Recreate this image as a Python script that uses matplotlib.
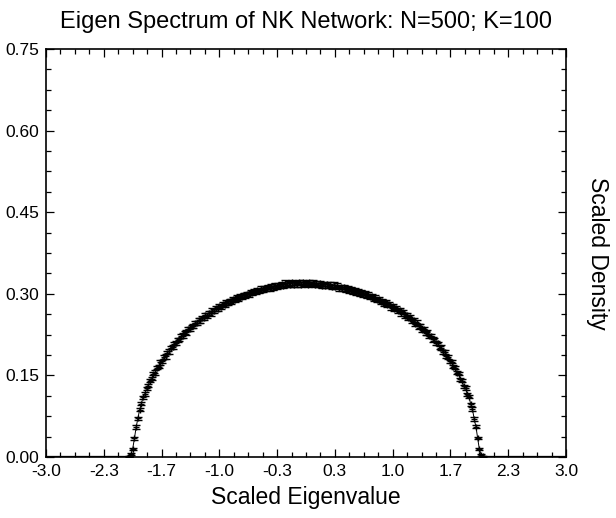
import numpy as np
import matplotlib
matplotlib.use("Agg")
import matplotlib.pyplot as plt
from matplotlib.ticker import MultipleLocator, FixedLocator

plt.rcParams['font.family'] = ['Liberation Sans', 'DejaVu Sans']

# ---- data -------------------------------------------------------------
# bin centres of the scaled eigenvalue histogram
eig_bins = np.round(np.linspace(-3.0, 3.0, 301), 2)

# density outside the support (x < -2.04 and x > 2.04)
left_tail = [0.0] * 48
right_tail = [0.0] * 48

# density for x = -2.04 ... 2.04 (step 0.02)
core_density = [
    0.001, 0.005, 0.015, 0.034, 0.055, 0.071, 0.087, 0.098, 0.110, 0.116,
    0.126, 0.131, 0.140, 0.144, 0.153, 0.155, 0.164, 0.166, 0.174, 0.176,
    0.184, 0.185, 0.192, 0.194, 0.201, 0.202, 0.208, 0.209, 0.215, 0.216,
    0.222, 0.223, 0.229, 0.229, 0.235, 0.235, 0.240, 0.241, 0.246, 0.246,
    0.251, 0.251, 0.256, 0.255, 0.261, 0.260, 0.265, 0.264, 0.269, 0.268,
    0.273, 0.272, 0.277, 0.276, 0.281, 0.279, 0.284, 0.283, 0.287, 0.286,
    0.290, 0.289, 0.293, 0.291, 0.296, 0.294, 0.298, 0.297, 0.300, 0.299,
    0.303, 0.301, 0.305, 0.303, 0.307, 0.305, 0.309, 0.307, 0.311, 0.309,
    0.313, 0.310, 0.314, 0.311, 0.315, 0.313, 0.316, 0.314, 0.318, 0.315,
    0.320, 0.316, 0.319, 0.317, 0.321, 0.317, 0.320, 0.318, 0.322, 0.317,
    0.321, 0.318, 0.320,
    0.317, 0.321, 0.318, 0.320, 0.316, 0.320, 0.316, 0.319, 0.315, 0.318,
    0.315, 0.318, 0.314, 0.317, 0.313, 0.316, 0.312, 0.315, 0.310, 0.313,
    0.309, 0.312, 0.308, 0.311, 0.306, 0.309, 0.304, 0.307, 0.302, 0.305,
    0.300, 0.303, 0.298, 0.301, 0.296, 0.299, 0.294, 0.296, 0.291, 0.293,
    0.288, 0.290, 0.285, 0.287, 0.282, 0.284, 0.279, 0.281, 0.275, 0.278,
    0.272, 0.274, 0.268, 0.270, 0.264, 0.266, 0.260, 0.261, 0.255, 0.257,
    0.250, 0.252, 0.245, 0.247, 0.240, 0.241, 0.234, 0.235, 0.228, 0.229,
    0.222, 0.223, 0.216, 0.216, 0.209, 0.209, 0.201, 0.201, 0.193, 0.193,
    0.185, 0.184, 0.176, 0.175, 0.166, 0.164, 0.155, 0.153, 0.143, 0.140,
    0.130, 0.127, 0.115, 0.111, 0.097, 0.088, 0.070, 0.056, 0.035, 0.014,
    0.004, 0.001,
]

# error bars for x = -2.04 ... 2.04
core_error = [
    0.001, 0.002, 0.002, 0.003, 0.003, 0.003, 0.003, 0.003, 0.003, 0.003,
    0.003, 0.003, 0.003, 0.003, 0.003, 0.004, 0.003, 0.003, 0.004, 0.003,
    0.003, 0.004, 0.003, 0.004, 0.003, 0.004, 0.003, 0.004, 0.004, 0.003,
    0.004, 0.004, 0.003, 0.004, 0.004, 0.004, 0.003, 0.004, 0.004, 0.004,
    0.004, 0.004, 0.004, 0.003, 0.004, 0.004, 0.004, 0.004, 0.004, 0.004,
    0.004, 0.004, 0.004, 0.004, 0.004, 0.004, 0.005, 0.004, 0.004, 0.004,
    0.004, 0.004, 0.004, 0.005, 0.004, 0.004, 0.004, 0.004, 0.004, 0.004,
    0.004, 0.004, 0.004, 0.004, 0.004, 0.004, 0.005, 0.004, 0.004, 0.004,
    0.004, 0.004, 0.004, 0.004, 0.005, 0.004, 0.004, 0.004, 0.004, 0.004,
    0.005, 0.004, 0.004, 0.004, 0.004, 0.004, 0.004, 0.005, 0.004, 0.004,
    0.004, 0.004, 0.004,
    0.004, 0.004, 0.004, 0.005, 0.004, 0.004, 0.004, 0.004, 0.004, 0.004,
    0.004, 0.004, 0.004, 0.004, 0.004, 0.005, 0.004, 0.004, 0.004, 0.004,
    0.004, 0.004, 0.004, 0.004, 0.004, 0.004, 0.004, 0.004, 0.005, 0.004,
    0.004, 0.004, 0.004, 0.004, 0.004, 0.004, 0.004, 0.004, 0.004, 0.004,
    0.004, 0.004, 0.004, 0.004, 0.004, 0.004, 0.004, 0.004, 0.004, 0.004,
    0.004, 0.004, 0.004, 0.004, 0.004, 0.004, 0.004, 0.004, 0.004, 0.004,
    0.004, 0.003, 0.004, 0.004, 0.004, 0.003, 0.004, 0.004, 0.003, 0.004,
    0.004, 0.003, 0.004, 0.003, 0.004, 0.003, 0.003, 0.004, 0.003, 0.003,
    0.003, 0.004, 0.003, 0.003, 0.003, 0.003, 0.003, 0.003, 0.003, 0.003,
    0.003, 0.003, 0.003, 0.003, 0.003, 0.003, 0.003, 0.003, 0.002, 0.002,
    0.002, 0.001,
]

density = np.array(left_tail + core_density + right_tail)
density_err = np.array([0.0] * 48 + core_error + [0.0] * 48)

x_ticks = [-3.0, -7 / 3, -5 / 3, -1.0, -1 / 3, 1 / 3, 1.0, 5 / 3, 7 / 3, 3.0]
x_tick_labels = ["-3.0", "-2.3", "-1.7", "-1.0", "-0.3", "0.3", "1.0", "1.7", "2.3", "3.0"]
y_ticks = [0.00, 0.15, 0.30, 0.45, 0.60, 0.75]
y_tick_labels = ["0.00", "0.15", "0.30", "0.45", "0.60", "0.75"]

# ---- figure -------------------------------------------------------------
fig = plt.figure(figsize=(6.16, 5.18), dpi=100)
ax = fig.add_axes([0.0747, 0.1178, 0.8442, 0.7876])

# connecting line over the whole range
ax.plot(eig_bins, density, color='black', linewidth=0.7, zorder=2)
# tails sit on the axis: draw slightly thicker line there
ax.plot(eig_bins[:49], density[:49], color='black', linewidth=1.6, zorder=2)
ax.plot(eig_bins[-49:], density[-49:], color='black', linewidth=1.6, zorder=2)

# points with error bars inside the support
core = slice(48, 48 + len(core_density))
ax.errorbar(eig_bins[core], density[core], yerr=density_err[core], fmt='+',
            color='black', ecolor='black', elinewidth=0.9, capsize=3.0,
            capthick=1.0, markersize=5, markeredgewidth=1.0, linestyle='none',
            zorder=3)

ax.set_xlim(-3.0, 3.0)
ax.set_ylim(0.0, 0.75)

ax.xaxis.set_major_locator(FixedLocator(x_ticks))
ax.set_xticklabels(x_tick_labels)
ax.xaxis.set_minor_locator(MultipleLocator(1 / 6))
ax.yaxis.set_major_locator(FixedLocator(y_ticks))
ax.set_yticklabels(y_tick_labels)
ax.yaxis.set_minor_locator(MultipleLocator(0.0375))

ax.tick_params(which='both', direction='in', top=True, right=True,
               labelsize=12.5, width=0.9, color='black')
ax.tick_params(which='major', length=5.5, pad=5)
ax.tick_params(which='minor', length=3.3)

for sp in ax.spines.values():
    sp.set_linewidth(1.2)

ax.set_title("Eigen Spectrum of NK Network: N=500; K=100", fontsize=17, pad=15)
ax.set_xlabel("Scaled Eigenvalue", fontsize=16.5, labelpad=5)
ax.yaxis.set_label_position('right')
ax.set_ylabel("Scaled Density", fontsize=16.5, rotation=270, labelpad=31)

fig.savefig("out.png", dpi=100)
